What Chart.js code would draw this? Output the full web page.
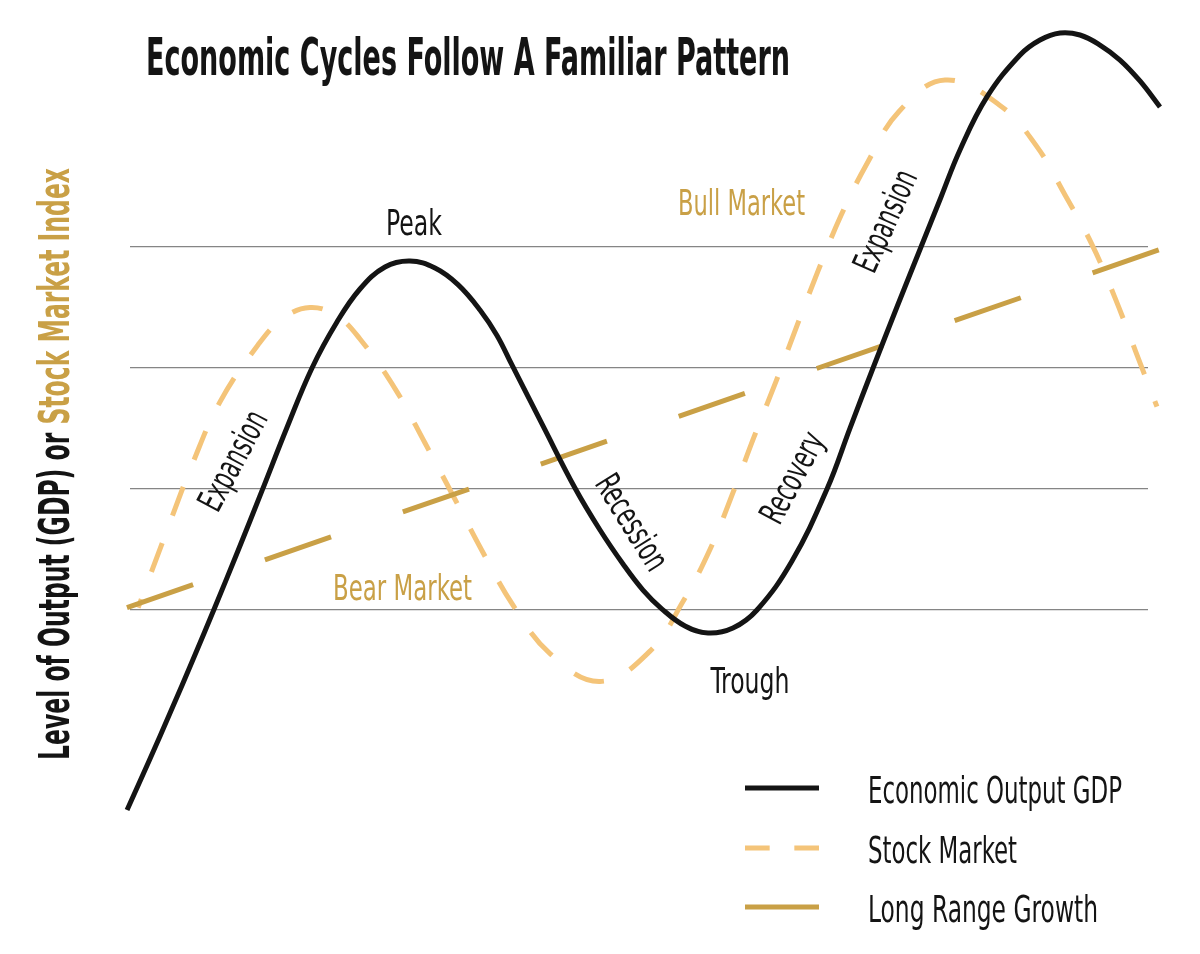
<!DOCTYPE html>
<html>
<head>
<meta charset="utf-8">
<title>Economic Cycles Follow A Familiar Pattern</title>
<script src="https://cdn.jsdelivr.net/npm/chart.js@4.4.1/dist/chart.umd.min.js"></script>
<style>
  html, body { margin: 0; padding: 0; background: #ffffff; }
  #wrap { width: 1200px; height: 954px; position: relative; }
</style>
</head>
<body>
<div id="wrap"><canvas id="cycle" width="1200" height="954"></canvas></div>
<script>
// ---- Series (time runs 0..100, level measured in grid steps) ----
const gdpTime = [-0.29, 1.87, 4.03, 6.19, 8.35, 10.61, 12.97, 15.42, 17.88, 20.33, 22.59, 25.05, 27.5, 29.96, 32.22, 34.38, 36.05, 37.52, 40.57, 43.71, 46.17, 48.43, 50.39, 52.26, 54.52, 56.78, 59.23, 61.59, 65.03, 68.47, 70.73, 72.99, 75.34, 77.7, 79.67, 81.53, 84.18, 87.43, 89.39, 91.36, 93.32, 95.28, 97.25, 99.21, 101.18];
const gdpLevel = [-0.653, -0.248, 0.167, 0.591, 1.025, 1.49, 1.986, 2.508, 3.0, 3.38, 3.653, 3.835, 3.884, 3.826, 3.689, 3.48, 3.269, 3.025, 2.521, 2.008, 1.661, 1.38, 1.165, 1.008, 0.868, 0.81, 0.851, 1.0, 1.405, 2.0, 2.504, 3.0, 3.504, 4.0, 4.413, 4.802, 5.24, 5.587, 5.711, 5.769, 5.752, 5.669, 5.545, 5.372, 5.157];

const stockTime = [0.8, 3.73, 6.19, 8.84, 12.57, 15.03, 17.68, 20.33, 22.59, 26.03, 28.98, 31.83, 34.58, 37.62, 41.26, 46.17, 51.08, 54.32, 56.97, 59.23, 61.3, 63.46, 65.52, 67.58, 69.84, 72.4, 75.54, 80.06, 85.46, 89.0, 91.85, 94.5, 96.76, 98.82, 100.88];
const stockLevel = [1.02, 1.68, 2.22, 2.72, 3.19, 3.41, 3.5, 3.43, 3.24, 2.83, 2.38, 1.93, 1.49, 1.04, 0.64, 0.41, 0.66, 1.07, 1.5, 1.97, 2.43, 2.89, 3.35, 3.8, 4.26, 4.69, 5.12, 5.38, 5.17, 4.84, 4.43, 4.02, 3.58, 3.13, 2.68];

const trendTime = [-0.3, 101.2];
const trendLevel = [1.02, 3.98];

const gridLevels = [1, 2, 3, 4];

const seriesNames = ['Economic Output GDP', 'Stock Market', 'Long Range Growth'];

// ---- Text ----
const chartTitle = 'Economic Cycles Follow A Familiar Pattern';
const axisTitleParts = ['Level of Output (GDP) or ', 'Stock Market Index'];

const BLACK = '#141414';
const GOLD = '#c9a046';
const SAND = '#f4c479';

const NARROW = '"Liberation Sans Narrow", "DejaVu Sans Condensed", "Arial Narrow", sans-serif';

// phase labels placed in data space: [text, time, level, angleDeg, width, color]
const phaseLabels = [
  ['Peak',        27.9,  4.21,   0,  56, BLACK],
  ['Trough',      60.9,  0.42,   0,  79, BLACK],
  ['Bull Market', 60.07, 4.37,   0, 127, GOLD],
  ['Bear Market', 26.77, 1.19,   0, 139, GOLD],
  ['Expansion',    9.99, 2.24, -62, 108, BLACK],
  ['Expansion',   74.07, 4.22, -66, 108, BLACK],
  ['Recession',   49.41, 1.73,  58, 106, BLACK],
  ['Recovery',    64.93, 2.10, -62,  98, BLACK]
];

function toPoints(xs, ys) { return xs.map((x, i) => ({ x: x, y: ys[i] })); }

// draw text squeezed/stretched horizontally to a given width, centred on the cap height
function fittedText(ctx, text, size, weight, width, x, y, angleDeg, color, align) {
  ctx.save();
  ctx.font = weight + ' ' + size + 'px ' + NARROW;
  const m = ctx.measureText(text);
  const cap = ctx.measureText('H').actualBoundingBoxAscent;
  const sx = width / m.width;
  ctx.translate(x, y);
  ctx.rotate(angleDeg * Math.PI / 180);
  ctx.scale(sx, 1);
  ctx.fillStyle = color;
  ctx.textBaseline = 'alphabetic';
  ctx.textAlign = 'left';
  const startX = align === 'left' ? 0 : -m.width / 2;
  ctx.fillText(text, startX, cap / 2);
  ctx.restore();
}

const decorations = {
  id: 'decorations',
  afterDatasetsDraw(chart) {
    const ctx = chart.ctx;
    const xs = chart.scales.x, ys = chart.scales.y;

    // title
    ctx.save();
    ctx.font = 'bold 52px ' + NARROW;
    const tw = ctx.measureText(chartTitle).width;
    ctx.translate(146, 75);
    ctx.scale(644 / tw, 1);
    ctx.fillStyle = BLACK;
    ctx.textBaseline = 'alphabetic';
    ctx.fillText(chartTitle, 0, 0);
    ctx.restore();

    // vertical axis title in two colours
    ctx.save();
    ctx.font = 'bold 43px ' + NARROW;
    const w1 = ctx.measureText(axisTitleParts[0]).width;
    const w2 = ctx.measureText(axisTitleParts[1]).width;
    ctx.translate(69, 760);
    ctx.rotate(-Math.PI / 2);
    ctx.scale(592 / (w1 + w2), 1);
    ctx.textBaseline = 'alphabetic';
    ctx.fillStyle = BLACK;
    ctx.fillText(axisTitleParts[0], 0, 0);
    ctx.fillStyle = GOLD;
    ctx.fillText(axisTitleParts[1], w1, 0);
    ctx.restore();

    // phase labels
    phaseLabels.forEach(([text, t, lv, ang, w, col]) => {
      fittedText(ctx, text, 35, 'normal', w, xs.getPixelForValue(t), ys.getPixelForValue(lv), ang, col, 'center');
    });

    // legend
    const rows = [788, 848, 907];
    const textWidths = [254, 149, 230];
    chart.data.datasets.forEach((ds, i) => {
      const y = rows[i];
      ctx.save();
      ctx.strokeStyle = ds.borderColor;
      ctx.lineWidth = ds.borderWidth;
      ctx.lineCap = 'butt';
      const len = 74;
      if (ds.legendDashed) {
        const d = len / 3;
        ctx.setLineDash([d, d]);
      }
      ctx.beginPath();
      ctx.moveTo(745, y);
      ctx.lineTo(745 + len, y);
      ctx.stroke();
      ctx.restore();
      fittedText(ctx, ds.label, 38, 'normal', textWidths[i], 868, y + 1, 0, BLACK, 'left');
    });
  }
};

const chart = new Chart(document.getElementById('cycle'), {
  type: 'line',
  data: {
    datasets: [
      {
        label: seriesNames[0],
        data: toPoints(gdpTime, gdpLevel),
        borderColor: BLACK,
        borderWidth: 5,
        tension: 0.4,
        pointRadius: 0,
        clip: false,
        order: 0
      },
      {
        label: seriesNames[1],
        data: toPoints(stockTime, stockLevel),
        borderColor: SAND,
        borderWidth: 5,
        borderDash: [31, 29],
        borderDashOffset: 22,
        tension: 0.4,
        pointRadius: 0,
        clip: false,
        order: 2,
        legendDashed: true
      },
      {
        label: seriesNames[2],
        data: toPoints(trendTime, trendLevel),
        borderColor: GOLD,
        borderWidth: 5,
        borderDash: [70, 76],
        tension: 0,
        pointRadius: 0,
        clip: false,
        order: 1
      }
    ]
  },
  options: {
    responsive: false,
    animation: false,
    events: [],
    layout: { padding: { left: 130, right: 52, top: 5, bottom: 102 } },
    plugins: { legend: { display: false }, title: { display: false }, tooltip: { enabled: false } },
    scales: {
      x: {
        type: 'linear',
        min: 0,
        max: 100,
        grid: { display: false, drawTicks: false },
        border: { display: false },
        ticks: { display: false },
        afterFit(scale) { scale.height = 0; }
      },
      y: {
        type: 'linear',
        min: -1,
        max: 6,
        grid: { color: '#858585', lineWidth: 1.3, drawTicks: false },
        border: { display: false },
        ticks: { display: false },
        afterBuildTicks(scale) { scale.ticks = gridLevels.map(v => ({ value: v })); },
        afterFit(scale) { scale.width = 0; }
      }
    }
  },
  plugins: [decorations]
});
</script>
</body>
</html>
